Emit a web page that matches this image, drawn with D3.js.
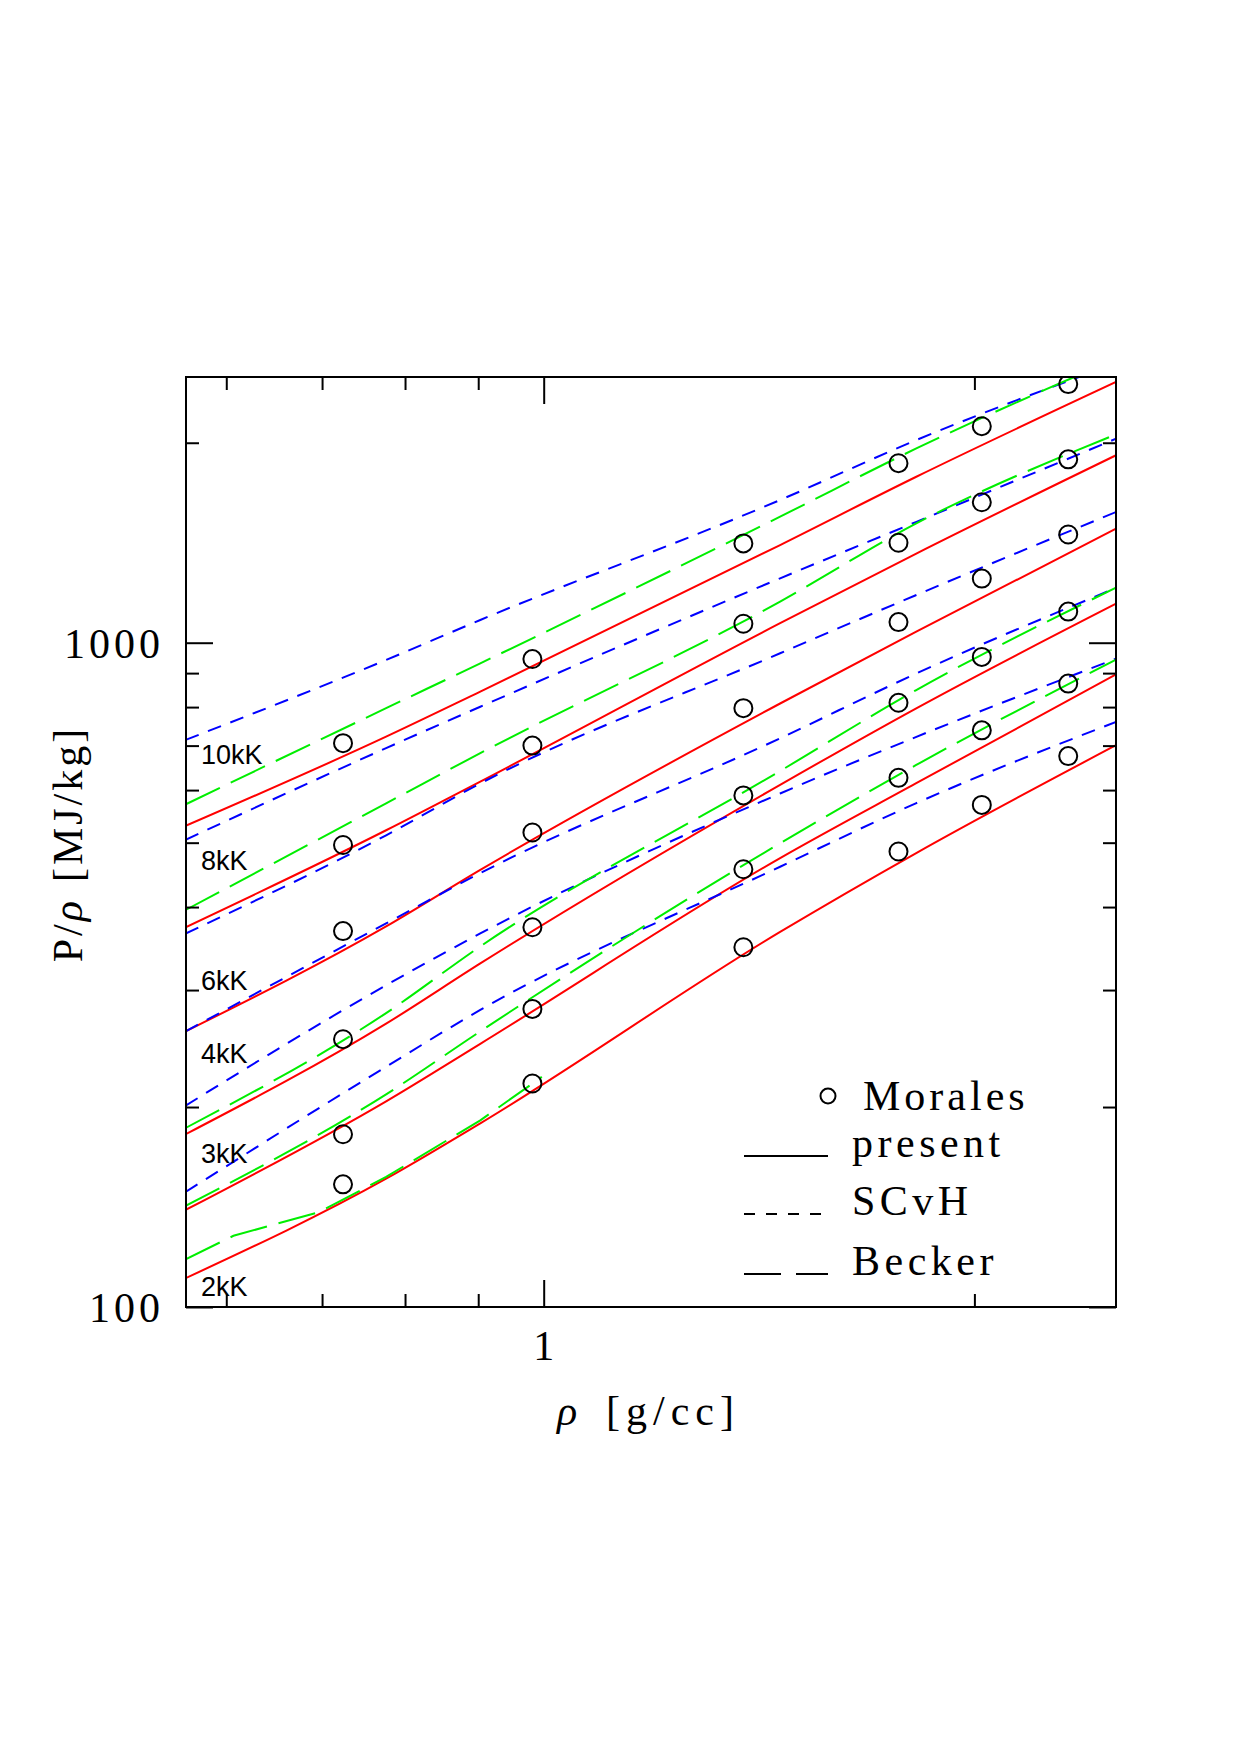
<!DOCTYPE html>
<html>
<head>
<meta charset="utf-8">
<script src="https://cdn.jsdelivr.net/npm/d3@7/dist/d3.min.js"></script>
<style>
  html, body { margin: 0; padding: 0; background: #fff; }
  svg { display: block; }
  .serif { font-family: "Liberation Serif", "Times New Roman", serif; fill: #000; }
  .tlabel { font-family: "Liberation Sans", Arial, sans-serif; font-size: 27px; fill: #000; }
</style>
</head>
<body>
<svg id="chart" width="1240" height="1755"></svg>
<script>
// ---- data ----
const rhoGrid = [0.562, 0.776, 0.903, 1.463, 1.820, 2.512];

// present (red, solid)
const present10 = [530, 722, 844, 1403, 1776, 2469];
const present8  = [373, 522, 618, 1070, 1361, 1915];
const present6  = [260, 374, 455, 810, 1038, 1485];
const present4  = [182, 267, 329, 611, 796, 1145];
const present3  = [140, 204, 249, 474, 614, 896];
const present2  = [110.5, 156, 189, 367, 482, 701];

// SCvH (blue, short dashes)
const scvh10 = [714, 942, 1082, 1640, 2017, 2634];
const scvh8  = [505, 694, 801, 1250, 1519, 2028];
const scvh6  = [365, 513, 614, 964, 1179, 1573];
const scvh4  = [260, 378, 450, 718, 898, 1209];
const scvh3  = [201, 305, 365, 593, 721, 946];
const scvh2  = [149, 230, 280, 460, 573, 760];

// Becker (green, long dashes)
const becker10 = [571, 797, 931, 1548, 1959, 2675];
const becker8  = [396, 573, 682, 1153, 1511, 2059];
const becker4  = [186, 277, 349, 641, 848, 1210];
const becker3  = [142, 209, 260, 499, 654, 943];
const becker2Rho = [0.562, 0.607, 0.697, 0.776, 0.903, 0.997];
const becker2    = [118, 128, 139, 157, 191, 222];

// Morales (open circles)
const moralesRho = [0.724, 0.982, 1.379, 1.770, 2.024, 2.326];
const morales10 = [706, 945, 1411, 1863, 2118, 2451];
const morales8  = [496, 700, 1068, 1414, 1627, 1888];
const morales6  = [368, 518, 797, 1074, 1249, 1455];
const morales4  = [253, 373, 589, 812, 952, 1114];
const morales3  = [182, 281, 456, 626, 738, 868];
const morales2  = [153, 217, 348, 485, 570, 675];

const tempLabels = ['10kK', '8kK', '6kK', '4kK', '3kK', '2kK'];
const tempLabelAt = [657, 455, 300, 233, 165, 104];   // P/rho where each label sits

const xMajor = [1], xMinor = [0.6, 0.7, 0.8, 0.9, 2];
const yMajor = [100, 1000], yMinor = [200, 300, 400, 500, 600, 700, 800, 900, 2000];

// ---- layout ----
const L = 186, R = 1116, T = 377, B = 1307;
const svg = d3.select('#chart');

const x = d3.scaleLog().domain([Math.pow(10, -0.25), Math.pow(10, 0.4)]).range([L, R]);
const y = d3.scaleLog().domain([100, Math.pow(10, 3.4)]).range([B, T]);

svg.append('defs').append('clipPath').attr('id', 'plotclip')
  .append('rect').attr('x', L).attr('y', T).attr('width', R - L).attr('height', B - T);

const plot = svg.append('g').attr('clip-path', 'url(#plotclip)');

const line = d3.line().x(d => x(d[0])).y(d => y(d[1])).curve(d3.curveMonotoneX);
const kinked = d3.line().x(d => x(d[0])).y(d => y(d[1]));
const zipr = (rs, vs) => rs.map((r, i) => [r, vs[i]]);

const redSeries = [present10, present8, present6, present4, present3, present2];
const blueSeries = [scvh10, scvh8, scvh6, scvh4, scvh3, scvh2];
const greenSeries = [becker10, becker8, becker4, becker3];

redSeries.forEach(v => {
  plot.append('path').attr('d', line(zipr(rhoGrid, v)))
    .attr('fill', 'none').attr('stroke', '#ff0000').attr('stroke-width', 2);
});
blueSeries.forEach(v => {
  plot.append('path').attr('d', line(zipr(rhoGrid, v)))
    .attr('fill', 'none').attr('stroke', '#0000ff').attr('stroke-width', 2)
    .attr('stroke-dasharray', '14,10');
});
greenSeries.forEach(v => {
  plot.append('path').attr('d', line(zipr(rhoGrid, v)))
    .attr('fill', 'none').attr('stroke', '#00ee00').attr('stroke-width', 2)
    .attr('stroke-dasharray', '38,12');
});
plot.append('path').attr('d', kinked(zipr(becker2Rho, becker2)))
  .attr('fill', 'none').attr('stroke', '#00ee00').attr('stroke-width', 2)
  .attr('stroke-dasharray', '38,12');

const moralesSeries = [morales10, morales8, morales6, morales4, morales3, morales2];
moralesSeries.forEach(v => {
  plot.selectAll(null).data(zipr(moralesRho, v)).enter().append('circle')
    .attr('cx', d => x(d[0])).attr('cy', d => y(d[1])).attr('r', 9)
    .attr('fill', 'none').attr('stroke', '#000').attr('stroke-width', 2);
});

// temperature labels
svg.selectAll('text.tlabel').data(tempLabels).enter().append('text')
  .attr('class', 'tlabel').attr('x', L + 15).attr('y', (d, i) => y(tempLabelAt[i])).text(d => d);

// ---- frame & ticks ----
svg.append('rect').attr('x', L).attr('y', T).attr('width', R - L).attr('height', B - T)
  .attr('fill', 'none').attr('stroke', '#000').attr('stroke-width', 2);

function ticks(axisFn, scale, vals, size, tr){
  svg.append('g').attr('transform', tr)
    .call(axisFn(scale).tickValues(vals).tickSize(size).tickFormat(''))
    .call(a => a.select('.domain').remove())
    .selectAll('line').attr('stroke', '#000').attr('stroke-width', 2);
}
ticks(d3.axisBottom, x, xMajor, -27, `translate(0,${B})`);
ticks(d3.axisBottom, x, xMinor, -13, `translate(0,${B})`);
ticks(d3.axisTop, x, xMajor, -27, `translate(0,${T})`);
ticks(d3.axisTop, x, xMinor, -13, `translate(0,${T})`);
ticks(d3.axisLeft, y, yMajor, -27, `translate(${L},0)`);
ticks(d3.axisLeft, y, yMinor, -13, `translate(${L},0)`);
ticks(d3.axisRight, y, yMajor, -27, `translate(${R},0)`);
ticks(d3.axisRight, y, yMinor, -13, `translate(${R},0)`);

// tick labels
svg.selectAll('text.xtl').data(xMajor).enter().append('text')
  .attr('class', 'serif').attr('font-size', 42).attr('text-anchor', 'middle')
  .attr('x', d => x(d)).attr('y', 1360).text(d => d);
svg.selectAll('text.ytl').data(yMajor).enter().append('text')
  .attr('class', 'serif').attr('font-size', 42).attr('text-anchor', 'end')
  .attr('letter-spacing', 4)
  .attr('x', 164).attr('y', d => y(d) + 15).text(d => d);

// axis titles
const xt = svg.append('text').attr('class', 'serif').attr('font-size', 42)
  .attr('x', 557).attr('y', 1425);
xt.append('tspan').attr('font-style', 'italic').text('ρ');
xt.append('tspan').attr('x', 606).attr('letter-spacing', 6).text('[g/cc]');

const yt = svg.append('text').attr('class', 'serif').attr('font-size', 42)
  .attr('text-anchor', 'middle').attr('letter-spacing', 3)
  .attr('transform', 'translate(82,844) rotate(-90)');
yt.append('tspan').text('P/');
yt.append('tspan').attr('font-style', 'italic').text('ρ');
yt.append('tspan').attr('dx', 16).text('[MJ/kg]');

// ---- legend ----
const lg = svg.append('g');
lg.append('circle').attr('cx', 828).attr('cy', 1096).attr('r', 7.5)
  .attr('fill', 'none').attr('stroke', '#000').attr('stroke-width', 2);
lg.append('text').attr('class', 'serif').attr('font-size', 42).attr('letter-spacing', 4)
  .attr('x', 863).attr('y', 1110).text('Morales');
const legItems = [
  { name: 'present', dash: null, y: 1157 },
  { name: 'SCvH', dash: '11,11', y: 1215 },
  { name: 'Becker', dash: '37,15', y: 1275 }
];
legItems.forEach(it => {
  lg.append('line').attr('x1', 744).attr('x2', 828).attr('y1', it.y - 1).attr('y2', it.y - 1)
    .attr('stroke', '#000').attr('stroke-width', 2)
    .attr('stroke-dasharray', it.dash);
  lg.append('text').attr('class', 'serif').attr('font-size', 42).attr('letter-spacing', 4.5)
    .attr('x', 852).attr('y', it.y).text(it.name);
});
</script>
</body>
</html>
